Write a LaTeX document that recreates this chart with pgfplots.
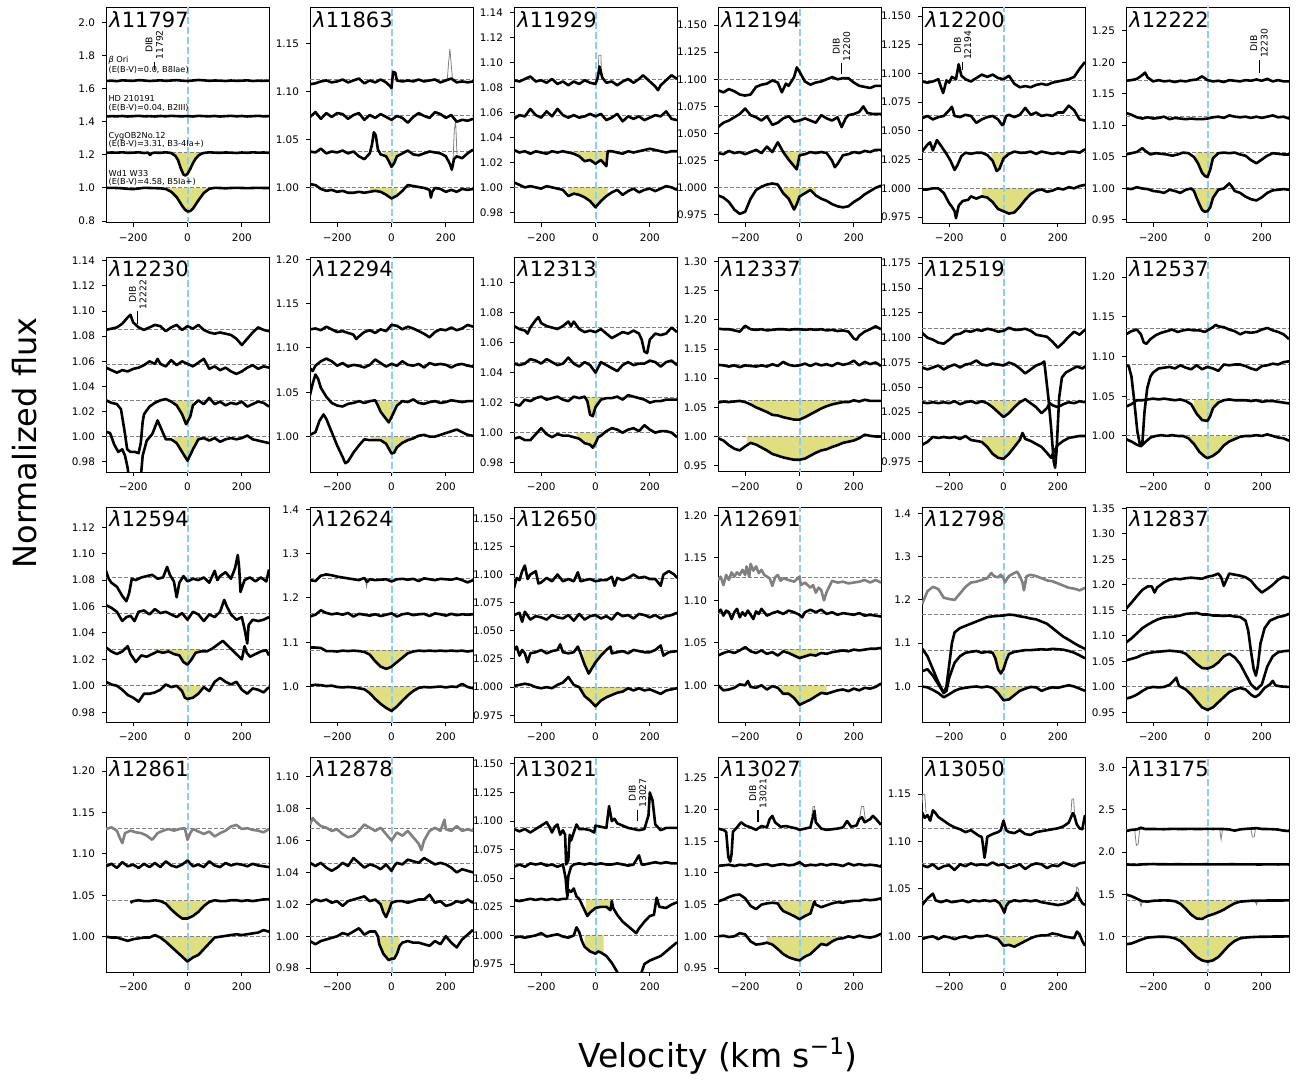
\documentclass[border=0pt]{standalone}
\usepackage{fontspec}
\setmainfont{DejaVu Sans}
\usepackage{pgfplots}
\pgfplotsset{compat=1.18}
\usepgfplotslibrary{fillbetween}
\definecolor{fillc}{RGB}{223,223,128}
\definecolor{vblue}{RGB}{135,206,250}
\definecolor{dgray}{RGB}{128,128,128}
\pgfplotsset{
 pan/.style={scale only axis, width=81.5pt, height=107.5pt, anchor=north west, set layers,
   xmin=-300, xmax=300, xtick={-200,0,200}, xticklabels={−200,0,200},
   tick align=outside, major tick length=2pt, every tick/.style={black, line width=0.5pt},
   axis line style={line width=0.5pt}, xtick pos=left, ytick pos=left,
   ticklabel style={font=\fontsize{5.2}{6}\selectfont}, clip=true},
 myspec/.style={black, line width=1.3pt, line join=round, mark=none},
 mygspec/.style={dgray, line width=1.3pt, line join=round, mark=none},
 mytgray/.style={dgray, line width=0.4pt, mark=none},
 mybase/.style={dgray, line width=0.5pt, dash pattern=on 2pt off 1pt, mark=none},
 myvline/.style={color=vblue, line width=1pt, dash pattern=on 3.5pt off 1.5pt, mark=none},
}
\newcommand\bases[4]{%
 \addplot[mybase] coordinates {(-300,#1)(300,#1)};
 \addplot[mybase] coordinates {(-300,#2)(300,#2)};
 \addplot[mybase, name path=BC] coordinates {(-300,#3)(300,#3)};
 \addplot[mybase, name path=BD] coordinates {(-300,#4)(300,#4)};
 \addplot[myvline] coordinates {(0,-10)(0,10)};}
\newcommand\spA[1]{\addplot[myspec] coordinates {#1};}
\newcommand\spG[1]{\addplot[mygspec] coordinates {#1};}
\newcommand\spT[1]{\addplot[mytgray] coordinates {#1};}
\newcommand\spC[1]{\addplot[myspec, name path=C] coordinates {#1};}
\newcommand\spD[1]{\addplot[myspec, name path=D] coordinates {#1};}
\newcommand\fills[4]{%
 \addplot[fill=fillc, draw=none] fill between[of=C and BC, soft clip={(axis cs:#1,0) rectangle (axis cs:#2,4)}];
 \addplot[fill=fillc, draw=none] fill between[of=D and BD, soft clip={(axis cs:#3,0) rectangle (axis cs:#4,4)}];}
\newcommand\ttl[1]{\node[anchor=north west, inner sep=1.5pt, font=\fontsize{10.5}{11}\selectfont] at (rel axis cs:0,1) {\textit{λ}#1};}
\newcommand\dib[4]{\draw[black, line width=0.6pt] (axis cs:#1,#2) -- (axis cs:#1,#3);
 \node[rotate=90, anchor=west, align=center, inner sep=0.8pt, font=\fontsize{4.6}{5.2}\selectfont] at (axis cs:#1,#3) {DIB\\#4};}
\newcommand\lab[2]{\node[anchor=west, inner sep=0pt, font=\fontsize{4.1}{4.7}\selectfont] at (axis cs:-292,#1) {#2};}
\begin{document}
\begin{tikzpicture}
\path (0,0) rectangle (648pt,-540.5pt);
\node[rotate=90, font=\fontsize{16}{16}\selectfont] at (12.5pt,-221.5pt) {Normalized flux};
\node[font=\fontsize{16.5}{16.5}\selectfont] at (359pt,-528pt) {Velocity (km s\textsuperscript{−1})};
% ---------- Row 1 ----------
\begin{axis}[pan, at={(53pt,-4pt)}, ymin=0.788, ymax=2.09, ytick={0.8,1.0,1.2,1.4,1.6,1.8,2.0}, yticklabels={0.8,1.0,1.2,1.4,1.6,1.8,2.0}]
\bases{1.65}{1.435}{1.215}{1.0}
\spA{(-300,1.648)(-280,1.650)(-260,1.647)(-240,1.652)(-220,1.650)(-200,1.649)(-180,1.653)(-160,1.651)(-140,1.648)(-120,1.650)(-100,1.652)(-80,1.649)(-60,1.651)(-40,1.653)(-20,1.650)(0,1.648)(20,1.651)(40,1.654)(60,1.652)(80,1.649)(100,1.651)(120,1.650)(140,1.648)(160,1.651)(180,1.649)(200,1.650)(220,1.652)(240,1.648)(260,1.650)(280,1.649)(300,1.650)}
\spA{(-300,1.433)(-280,1.435)(-260,1.434)(-240,1.436)(-220,1.433)(-200,1.435)(-180,1.437)(-160,1.434)(-140,1.435)(-120,1.433)(-100,1.436)(-80,1.434)(-60,1.437)(-40,1.435)(-20,1.434)(0,1.436)(20,1.433)(40,1.437)(60,1.435)(80,1.434)(100,1.436)(120,1.433)(140,1.435)(160,1.437)(180,1.434)(200,1.436)(220,1.433)(240,1.435)(260,1.437)(280,1.434)(300,1.435)}
\spC{(-300,1.213)(-280,1.215)(-260,1.214)(-240,1.216)(-220,1.213)(-200,1.214)(-180,1.216)(-160,1.212)(-145,1.214)(-138,1.200)(-130,1.212)(-120,1.214)(-100,1.213)(-80,1.216)(-60,1.212)(-45,1.195)(-35,1.170)(-25,1.120)(-15,1.082)(-8,1.076)(0,1.085)(10,1.115)(20,1.150)(30,1.178)(40,1.196)(50,1.207)(60,1.212)(80,1.216)(100,1.214)(120,1.213)(140,1.215)(160,1.214)(180,1.212)(200,1.215)(220,1.213)(240,1.216)(260,1.214)(280,1.215)(300,1.213)}
\spD{(-300,1.000)(-280,1.001)(-260,1.000)(-240,0.998)(-220,0.995)(-200,0.993)(-180,0.997)(-160,1.001)(-140,1.000)(-120,0.999)(-100,0.998)(-80,0.994)(-60,0.977)(-40,0.945)(-20,0.893)(-10,0.870)(0,0.858)(10,0.860)(20,0.875)(40,0.925)(60,0.970)(80,0.995)(100,1.001)(120,1.000)(140,0.998)(160,1.000)(180,1.001)(200,1.000)(220,0.999)(240,1.000)(260,1.001)(280,1.000)(300,1.000)}
\fills{-55}{60}{-80}{80}
\ttl{11797}
\lab{1.776}{\textit{β} Ori}
\lab{1.715}{(E(B-V)=0.0, B8Iae)}
\lab{1.540}{HD 210191}
\lab{1.485}{(E(B-V)=0.04, B2III)}
\lab{1.315}{CygOB2No.12}
\lab{1.267}{(E(B-V)=3.31, B3-4Ia+)}
\lab{1.090}{Wd1 W33}
\lab{1.036}{(E(B-V)=4.58, B5Ia+)}
\dib{-122}{1.715}{1.766}{11792}
\end{axis}
\begin{axis}[pan, at={(155pt,-4pt)}, ymin=0.9635, ymax=1.1875, ytick={1.00,1.05,1.10,1.15}, yticklabels={1.00,1.05,1.10,1.15}]
\bases{1.1125}{1.076}{1.0375}{1.0}
\spT{(205,1.112)(210,1.130)(215,1.145)(220,1.128)(225,1.112)}
\spT{(226,1.025)(231,1.060)(236,1.070)(241,1.035)}
\spA{(-300,1.108)(-280,1.109)(-260,1.111)(-240,1.112)(-220,1.110)(-200,1.111)(-180,1.113)(-160,1.110)(-140,1.112)(-120,1.114)(-100,1.109)(-80,1.112)(-60,1.110)(-40,1.113)(-20,1.110)(-5,1.106)(0,1.104)(6,1.121)(14,1.120)(20,1.112)(40,1.111)(60,1.112)(80,1.111)(100,1.113)(120,1.111)(140,1.112)(160,1.113)(180,1.110)(200,1.112)(220,1.114)(240,1.110)(260,1.111)(280,1.110)(300,1.111)}
\spA{(-300,1.074)(-280,1.079)(-260,1.072)(-240,1.078)(-220,1.074)(-200,1.078)(-180,1.077)(-160,1.072)(-140,1.076)(-120,1.078)(-100,1.071)(-80,1.076)(-60,1.073)(-40,1.077)(-20,1.074)(0,1.071)(20,1.075)(40,1.073)(60,1.068)(80,1.074)(100,1.078)(120,1.075)(140,1.073)(160,1.079)(180,1.077)(200,1.073)(220,1.076)(240,1.069)(260,1.071)(280,1.070)(300,1.072)}
\spC{(-300,1.038)(-280,1.037)(-260,1.041)(-240,1.036)(-220,1.038)(-200,1.037)(-180,1.039)(-160,1.036)(-140,1.038)(-120,1.033)(-100,1.030)(-80,1.036)(-72,1.045)(-65,1.058)(-58,1.055)(-50,1.040)(-40,1.035)(-20,1.033)(-10,1.028)(0,1.022)(10,1.026)(20,1.033)(40,1.036)(60,1.039)(80,1.035)(100,1.034)(120,1.036)(140,1.038)(160,1.037)(180,1.036)(200,1.033)(215,1.025)(222,1.019)(230,1.030)(240,1.033)(260,1.031)(280,1.036)(300,1.040)}
\spD{(-300,1.004)(-280,1.003)(-260,0.999)(-240,0.997)(-220,0.998)(-200,0.996)(-180,0.997)(-160,0.995)(-140,0.995)(-120,0.996)(-100,0.995)(-80,0.996)(-60,0.997)(-40,0.996)(-20,0.993)(0,0.989)(20,0.992)(40,0.997)(60,1.003)(80,1.002)(100,1.001)(120,1.000)(140,0.998)(145,0.990)(150,0.996)(160,1.000)(180,0.999)(200,0.996)(220,0.998)(240,0.996)(260,0.999)(280,0.998)(300,0.999)}
\fills{-30}{25}{-80}{20}
\ttl{11863}
\end{axis}
\begin{axis}[pan, at={(257pt,-4pt)}, ymin=0.9714, ymax=1.144, ytick={0.98,1.00,1.02,1.04,1.06,1.08,1.10,1.12,1.14}, yticklabels={0.98,1.00,1.02,1.04,1.06,1.08,1.10,1.12,1.14}]
\bases{1.0864}{1.0574}{1.0289}{1.0}
\spT{(10,1.088)(12,1.106)(20,1.106)(22,1.088)}
\spA{(-300,1.086)(-280,1.085)(-260,1.087)(-240,1.089)(-220,1.085)(-200,1.086)(-180,1.084)(-160,1.087)(-140,1.083)(-120,1.085)(-100,1.082)(-80,1.085)(-60,1.083)(-40,1.086)(-20,1.084)(0,1.083)(8,1.088)(15,1.097)(25,1.088)(40,1.084)(60,1.085)(80,1.082)(100,1.085)(120,1.087)(140,1.084)(160,1.087)(175,1.090)(200,1.085)(220,1.081)(230,1.078)(240,1.082)(260,1.086)(280,1.090)(300,1.087)}
\spA{(-300,1.055)(-280,1.058)(-260,1.057)(-240,1.063)(-220,1.058)(-200,1.056)(-180,1.061)(-160,1.057)(-140,1.063)(-120,1.058)(-100,1.056)(-80,1.058)(-60,1.056)(-40,1.057)(-20,1.059)(0,1.057)(20,1.059)(40,1.054)(60,1.056)(80,1.059)(100,1.053)(120,1.057)(140,1.055)(160,1.057)(180,1.054)(200,1.056)(220,1.058)(240,1.057)(260,1.061)(280,1.055)(300,1.054)}
\spC{(-300,1.030)(-280,1.028)(-260,1.029)(-240,1.027)(-220,1.029)(-200,1.028)(-180,1.027)(-160,1.029)(-140,1.028)(-120,1.029)(-100,1.028)(-80,1.027)(-60,1.025)(-40,1.021)(-20,1.022)(0,1.019)(20,1.022)(40,1.017)(45,1.029)(60,1.029)(80,1.028)(100,1.027)(120,1.029)(140,1.028)(160,1.029)(180,1.030)(200,1.031)(220,1.030)(240,1.029)(260,1.028)(280,1.029)(300,1.029)}
\spD{(-300,1.004)(-280,1.002)(-260,1.000)(-240,1.001)(-220,1.000)(-200,0.999)(-180,1.001)(-160,1.000)(-140,0.999)(-120,0.998)(-100,0.993)(-80,0.995)(-60,0.994)(-40,0.992)(-20,0.989)(0,0.984)(20,0.989)(40,0.993)(60,0.996)(80,0.998)(100,0.994)(120,0.997)(140,0.999)(160,0.996)(180,0.998)(200,0.999)(220,0.997)(240,0.999)(260,1.001)(280,1.000)(300,0.998)}
\fills{-90}{45}{-100}{45}
\ttl{11929}
\end{axis}
\begin{axis}[pan, at={(359pt,-4pt)}, ymin=0.9676, ymax=1.1657, ytick={0.975,1.000,1.025,1.050,1.075,1.100,1.125,1.150}, yticklabels={0.975,1.000,1.025,1.050,1.075,1.100,1.125,1.150}]
\bases{1.0998}{1.0665}{1.0333}{1.0}
\spA{(-300,1.090)(-280,1.088)(-260,1.091)(-240,1.089)(-220,1.086)(-200,1.085)(-180,1.086)(-160,1.093)(-140,1.095)(-120,1.096)(-100,1.099)(-80,1.097)(-65,1.088)(-50,1.096)(-40,1.094)(-20,1.102)(-10,1.111)(0,1.107)(20,1.098)(40,1.095)(60,1.097)(80,1.098)(100,1.100)(120,1.102)(140,1.100)(160,1.101)(180,1.101)(200,1.097)(220,1.094)(240,1.093)(260,1.092)(280,1.094)(300,1.094)}
\spA{(-300,1.056)(-280,1.060)(-260,1.062)(-240,1.065)(-220,1.068)(-200,1.073)(-180,1.067)(-160,1.065)(-140,1.062)(-120,1.066)(-100,1.058)(-80,1.060)(-60,1.064)(-40,1.066)(-20,1.061)(0,1.062)(20,1.064)(40,1.062)(60,1.060)(80,1.067)(100,1.064)(120,1.062)(140,1.065)(155,1.056)(170,1.064)(180,1.067)(200,1.068)(220,1.070)(235,1.075)(250,1.069)(270,1.068)(300,1.068)}
\spC{(-300,1.032)(-280,1.031)(-260,1.034)(-240,1.032)(-220,1.033)(-200,1.031)(-180,1.033)(-160,1.035)(-140,1.032)(-120,1.038)(-100,1.033)(-80,1.042)(-60,1.033)(-40,1.026)(-20,1.020)(-10,1.017)(0,1.030)(20,1.031)(40,1.033)(60,1.032)(80,1.033)(100,1.032)(120,1.025)(130,1.019)(140,1.022)(160,1.030)(180,1.031)(200,1.033)(220,1.032)(240,1.034)(260,1.033)(280,1.035)(300,1.035)}
\spD{(-300,0.993)(-280,0.991)(-260,0.987)(-240,0.980)(-220,0.976)(-200,0.978)(-180,0.990)(-160,0.998)(-140,1.001)(-120,1.003)(-100,1.004)(-80,1.003)(-60,0.995)(-40,0.990)(-20,0.980)(-10,0.985)(0,0.992)(20,0.995)(40,0.998)(60,0.993)(80,0.990)(100,0.988)(120,0.985)(140,0.983)(160,0.982)(180,0.983)(200,0.987)(220,0.990)(240,0.994)(260,0.997)(280,1.000)(300,1.002)}
\fills{-60}{15}{-60}{60}
\ttl{12194}
\dib{155}{1.105}{1.115}{12200}
\end{axis}
\begin{axis}[pan, at={(461pt,-4pt)}, ymin=0.9698, ymax=1.157, ytick={0.975,1.000,1.025,1.050,1.075,1.100,1.125,1.150}, yticklabels={0.975,1.000,1.025,1.050,1.075,1.100,1.125,1.150}]
\bases{1.0943}{1.063}{1.0314}{1.0}
\spA{(-300,1.093)(-280,1.092)(-260,1.093)(-240,1.095)(-230,1.088)(-222,1.083)(-210,1.094)(-200,1.092)(-190,1.097)(-175,1.095)(-165,1.108)(-155,1.098)(-140,1.095)(-120,1.093)(-100,1.096)(-80,1.099)(-60,1.097)(-40,1.099)(-20,1.096)(0,1.095)(20,1.098)(40,1.091)(60,1.088)(80,1.089)(100,1.088)(120,1.090)(140,1.091)(160,1.090)(180,1.092)(200,1.093)(220,1.094)(240,1.095)(260,1.097)(280,1.104)(300,1.110)}
\spA{(-300,1.061)(-280,1.063)(-260,1.060)(-240,1.062)(-220,1.063)(-200,1.068)(-190,1.071)(-180,1.063)(-160,1.062)(-140,1.064)(-120,1.063)(-100,1.057)(-80,1.060)(-60,1.062)(-40,1.063)(-20,1.060)(-5,1.055)(0,1.056)(10,1.063)(20,1.064)(40,1.062)(60,1.064)(80,1.070)(100,1.064)(120,1.066)(140,1.063)(160,1.064)(180,1.063)(200,1.066)(220,1.066)(240,1.072)(260,1.068)(280,1.060)(300,1.059)}
\spC{(-300,1.032)(-280,1.038)(-270,1.040)(-260,1.033)(-245,1.042)(-230,1.037)(-210,1.030)(-195,1.024)(-180,1.016)(-170,1.020)(-155,1.028)(-140,1.031)(-120,1.030)(-100,1.031)(-80,1.031)(-60,1.029)(-40,1.024)(-25,1.015)(-15,1.017)(0,1.026)(20,1.030)(40,1.032)(60,1.031)(80,1.031)(100,1.032)(120,1.030)(140,1.032)(160,1.031)(180,1.030)(200,1.031)(220,1.030)(240,1.032)(260,1.032)(280,1.031)(300,1.034)}
\spD{(-300,0.999)(-280,0.999)(-260,1.000)(-240,1.000)(-220,0.996)(-200,0.987)(-190,0.984)(-180,0.980)(-175,0.974)(-165,0.985)(-150,0.989)(-130,0.990)(-120,0.993)(-100,0.991)(-80,0.993)(-60,0.992)(-40,0.988)(-20,0.982)(0,0.980)(20,0.978)(40,0.979)(60,0.984)(80,0.990)(100,0.995)(120,0.998)(140,0.999)(160,0.997)(180,0.998)(200,1.000)(220,0.999)(240,1.001)(260,1.000)(280,1.002)(300,1.003)}
\fills{-45}{45}{-80}{105}
\ttl{12200}
\dib{-150}{1.103}{1.110}{12194}
\end{axis}
\begin{axis}[pan, at={(563pt,-4pt)}, ymin=0.9452, ymax=1.2865, ytick={0.95,1.00,1.05,1.10,1.15,1.20,1.25}, yticklabels={0.95,1.00,1.05,1.10,1.15,1.20,1.25}]
\bases{1.172}{1.114}{1.0575}{1.0}
\spA{(-300,1.171)(-280,1.172)(-260,1.174)(-240,1.180)(-230,1.184)(-220,1.176)(-200,1.170)(-180,1.172)(-160,1.170)(-140,1.171)(-120,1.169)(-100,1.171)(-80,1.170)(-60,1.172)(-40,1.173)(-20,1.178)(0,1.172)(20,1.170)(40,1.171)(60,1.169)(80,1.172)(100,1.171)(120,1.170)(140,1.172)(160,1.171)(180,1.173)(200,1.171)(220,1.174)(240,1.170)(260,1.172)(280,1.170)(300,1.170)}
\spA{(-300,1.120)(-280,1.117)(-260,1.113)(-240,1.111)(-220,1.113)(-200,1.111)(-180,1.112)(-160,1.114)(-140,1.110)(-120,1.112)(-100,1.111)(-80,1.110)(-60,1.111)(-40,1.110)(-20,1.110)(0,1.111)(20,1.113)(40,1.114)(60,1.112)(80,1.116)(100,1.114)(120,1.113)(140,1.114)(160,1.112)(180,1.114)(200,1.112)(220,1.114)(240,1.116)(260,1.113)(280,1.114)(300,1.111)}
\spC{(-300,1.054)(-280,1.056)(-260,1.058)(-240,1.064)(-230,1.060)(-210,1.054)(-190,1.056)(-170,1.055)(-150,1.054)(-130,1.052)(-110,1.054)(-90,1.057)(-70,1.056)(-50,1.050)(-35,1.040)(-20,1.025)(-10,1.020)(0,1.018)(10,1.030)(20,1.048)(40,1.056)(60,1.057)(80,1.056)(100,1.057)(120,1.054)(140,1.052)(160,1.045)(180,1.040)(200,1.046)(220,1.052)(240,1.056)(260,1.055)(280,1.054)(300,1.054)}
\spD{(-300,1.000)(-280,0.999)(-260,1.002)(-240,1.000)(-220,0.999)(-200,0.996)(-180,0.995)(-160,0.993)(-140,0.998)(-120,0.996)(-100,0.993)(-80,0.998)(-60,1.000)(-50,0.996)(-40,0.985)(-30,0.975)(-20,0.966)(-10,0.963)(0,0.964)(10,0.970)(20,0.985)(40,0.998)(60,1.000)(80,1.008)(90,1.003)(100,0.996)(120,0.993)(140,0.987)(160,0.983)(180,0.981)(200,0.986)(220,0.993)(240,0.997)(260,0.998)(280,0.999)(300,0.998)}
\fills{-45}{35}{-50}{40}
\ttl{12222}
\dib{190}{1.183}{1.204}{12230}
\end{axis}
% ---------- Row 2 ----------
\begin{axis}[pan, at={(53pt,-128.5pt)}, ymin=0.972, ymax=1.143, ytick={0.98,1.00,1.02,1.04,1.06,1.08,1.10,1.12,1.14}, yticklabels={0.98,1.00,1.02,1.04,1.06,1.08,1.10,1.12,1.14}]
\bases{1.0857}{1.0572}{1.029}{1.0}
\spA{(-300,1.085)(-280,1.086)(-260,1.087)(-240,1.090)(-220,1.095)(-210,1.097)(-200,1.091)(-180,1.087)(-160,1.085)(-140,1.087)(-120,1.089)(-100,1.088)(-80,1.084)(-60,1.087)(-40,1.089)(-20,1.085)(0,1.088)(20,1.086)(40,1.089)(60,1.085)(80,1.083)(100,1.082)(120,1.083)(140,1.082)(160,1.081)(180,1.078)(200,1.073)(220,1.078)(240,1.083)(260,1.087)(280,1.085)(300,1.084)}
\spA{(-300,1.055)(-280,1.053)(-260,1.051)(-240,1.053)(-220,1.052)(-200,1.054)(-180,1.055)(-160,1.057)(-140,1.060)(-120,1.058)(-110,1.062)(-100,1.058)(-80,1.056)(-60,1.061)(-40,1.057)(-20,1.060)(0,1.058)(20,1.056)(40,1.059)(60,1.062)(80,1.054)(100,1.056)(120,1.053)(140,1.055)(160,1.052)(180,1.050)(200,1.052)(220,1.055)(240,1.057)(260,1.054)(280,1.056)(300,1.055)}
\spC{(-300,1.029)(-280,1.027)(-260,1.026)(-245,1.022)(-232,1.005)(-222,0.990)(-210,0.988)(-195,0.988)(-180,0.987)(-172,0.995)(-165,1.012)(-160,1.018)(-140,1.024)(-120,1.027)(-100,1.029)(-80,1.030)(-60,1.028)(-40,1.025)(-20,1.018)(-5,1.010)(10,1.016)(20,1.025)(40,1.029)(60,1.026)(80,1.031)(100,1.026)(120,1.028)(140,1.025)(160,1.027)(180,1.026)(200,1.028)(220,1.024)(240,1.026)(260,1.028)(280,1.027)(300,1.024)}
\spD{(-300,1.004)(-285,1.003)(-270,0.994)(-255,0.988)(-240,0.990)(-230,0.985)(-220,0.975)(-212,0.960)(-175,0.960)(-165,0.985)(-150,0.997)(-130,1.002)(-110,1.013)(-100,1.008)(-80,0.998)(-60,0.998)(-40,0.995)(-20,0.988)(0,0.981)(20,0.990)(40,0.998)(60,0.999)(80,0.997)(100,0.999)(120,0.996)(140,0.998)(160,0.999)(180,0.998)(200,0.999)(220,1.001)(240,0.998)(260,0.997)(280,0.996)(300,0.995)}
\fills{-50}{20}{-50}{80}
\ttl{12230}
\dib{-183}{1.090}{1.100}{12222}
\end{axis}
\begin{axis}[pan, at={(155pt,-128.5pt)}, ymin=0.9601, ymax=1.2026, ytick={1.00,1.05,1.10,1.15,1.20}, yticklabels={1.00,1.05,1.10,1.15,1.20}]
\bases{1.1213}{1.081}{1.0405}{1.0}
\spA{(-300,1.121)(-280,1.122)(-260,1.120)(-240,1.124)(-220,1.121)(-200,1.118)(-180,1.119)(-160,1.117)(-140,1.115)(-130,1.110)(-120,1.113)(-100,1.118)(-80,1.120)(-60,1.117)(-40,1.121)(-20,1.119)(0,1.126)(20,1.125)(40,1.121)(60,1.124)(80,1.122)(100,1.119)(120,1.116)(140,1.112)(160,1.118)(180,1.121)(200,1.120)(220,1.123)(240,1.120)(260,1.122)(280,1.126)(300,1.124)}
\spA{(-300,1.077)(-290,1.074)(-280,1.080)(-260,1.085)(-240,1.088)(-220,1.085)(-200,1.080)(-180,1.083)(-160,1.079)(-140,1.081)(-120,1.080)(-100,1.078)(-80,1.081)(-60,1.087)(-40,1.083)(-20,1.079)(0,1.082)(20,1.080)(40,1.085)(60,1.081)(80,1.080)(100,1.082)(120,1.078)(140,1.083)(160,1.081)(180,1.082)(200,1.081)(220,1.078)(240,1.081)(260,1.082)(280,1.080)(300,1.079)}
\spC{(-300,1.047)(-290,1.060)(-280,1.070)(-270,1.065)(-260,1.055)(-240,1.045)(-220,1.038)(-200,1.035)(-180,1.034)(-160,1.037)(-140,1.038)(-120,1.040)(-100,1.038)(-80,1.040)(-60,1.041)(-50,1.035)(-40,1.028)(-20,1.020)(-10,1.016)(0,1.022)(20,1.035)(40,1.040)(60,1.039)(80,1.042)(100,1.038)(120,1.037)(140,1.039)(160,1.040)(180,1.038)(200,1.039)(220,1.041)(240,1.040)(260,1.039)(280,1.040)(300,1.040)}
\spD{(-300,1.002)(-280,1.005)(-265,1.018)(-250,1.025)(-240,1.020)(-220,1.005)(-200,0.990)(-180,0.977)(-170,0.970)(-160,0.972)(-140,0.982)(-120,0.990)(-100,0.997)(-80,0.996)(-60,0.996)(-40,0.996)(-20,0.992)(0,0.981)(10,0.982)(20,0.988)(40,0.993)(60,0.996)(80,0.998)(100,1.001)(120,1.002)(140,1.000)(160,1.000)(180,1.002)(200,1.004)(220,1.006)(240,1.008)(260,1.005)(280,1.002)(300,1.001)}
\fills{-70}{30}{-75}{95}
\ttl{12294}
\end{axis}
\begin{axis}[pan, at={(257pt,-128.5pt)}, ymin=0.9738, ymax=1.117, ytick={0.98,1.00,1.02,1.04,1.06,1.08,1.10}, yticklabels={0.98,1.00,1.02,1.04,1.06,1.08,1.10}]
\bases{1.0703}{1.0466}{1.0237}{1.0}
\spA{(-300,1.071)(-280,1.069)(-260,1.068)(-250,1.066)(-240,1.070)(-220,1.075)(-210,1.077)(-200,1.073)(-180,1.071)(-160,1.070)(-140,1.069)(-120,1.071)(-100,1.074)(-90,1.071)(-80,1.074)(-60,1.069)(-40,1.067)(-20,1.068)(0,1.067)(20,1.069)(40,1.066)(60,1.063)(80,1.065)(100,1.067)(120,1.066)(140,1.068)(160,1.066)(170,1.062)(180,1.054)(190,1.053)(200,1.062)(220,1.066)(240,1.065)(260,1.066)(280,1.070)(300,1.067)}
\spA{(-300,1.046)(-280,1.045)(-260,1.046)(-240,1.049)(-220,1.048)(-200,1.046)(-180,1.049)(-160,1.047)(-140,1.045)(-120,1.046)(-100,1.050)(-80,1.046)(-60,1.044)(-40,1.047)(-20,1.045)(0,1.040)(20,1.047)(40,1.045)(60,1.043)(80,1.041)(100,1.045)(120,1.047)(140,1.045)(160,1.046)(180,1.046)(200,1.048)(220,1.047)(240,1.044)(260,1.047)(280,1.048)(300,1.045)}
\spC{(-300,1.019)(-280,1.018)(-260,1.022)(-240,1.021)(-220,1.023)(-200,1.024)(-180,1.022)(-160,1.023)(-140,1.024)(-120,1.022)(-100,1.021)(-80,1.024)(-60,1.023)(-40,1.024)(-30,1.021)(-20,1.012)(-10,1.011)(0,1.017)(20,1.022)(40,1.023)(60,1.023)(80,1.024)(100,1.022)(120,1.025)(140,1.024)(160,1.023)(180,1.022)(200,1.020)(220,1.021)(240,1.021)(260,1.022)(280,1.022)(300,1.022)}
\spD{(-300,0.996)(-280,0.997)(-260,0.995)(-240,0.995)(-220,0.999)(-200,1.003)(-180,0.999)(-160,0.997)(-140,0.999)(-120,0.998)(-100,0.998)(-80,0.997)(-60,0.996)(-40,0.993)(-20,0.992)(-10,0.990)(0,0.993)(10,0.997)(20,0.998)(40,1.001)(60,1.003)(80,1.002)(100,1.000)(120,1.002)(140,1.003)(160,1.001)(180,1.005)(200,1.002)(220,1.000)(240,1.001)(260,1.001)(280,1.000)(300,0.997)}
\fills{-30}{40}{-70}{30}
\ttl{12313}
\end{axis}
\begin{axis}[pan, at={(359pt,-128.5pt)}, ymin=0.939, ymax=1.308, ytick={0.95,1.00,1.05,1.10,1.15,1.20,1.25,1.30}, yticklabels={0.95,1.00,1.05,1.10,1.15,1.20,1.25,1.30}]
\bases{1.1846}{1.1237}{1.0623}{1.0}
\spA{(-300,1.185)(-280,1.184)(-260,1.184)(-240,1.182)(-220,1.180)(-200,1.190)(-180,1.184)(-160,1.183)(-140,1.184)(-120,1.182)(-100,1.183)(-80,1.184)(-60,1.184)(-40,1.183)(-20,1.184)(0,1.184)(20,1.183)(40,1.184)(60,1.183)(80,1.184)(100,1.182)(120,1.183)(140,1.181)(160,1.182)(180,1.180)(200,1.168)(210,1.166)(220,1.173)(240,1.180)(260,1.184)(280,1.189)(300,1.184)}
\spA{(-300,1.123)(-280,1.122)(-260,1.120)(-240,1.122)(-220,1.119)(-200,1.122)(-180,1.121)(-160,1.120)(-140,1.122)(-120,1.120)(-100,1.124)(-80,1.121)(-60,1.128)(-40,1.123)(-20,1.121)(0,1.122)(20,1.125)(40,1.121)(60,1.125)(80,1.122)(100,1.124)(120,1.121)(140,1.126)(160,1.123)(180,1.125)(200,1.130)(220,1.122)(240,1.128)(260,1.124)(280,1.127)(300,1.121)}
\spC{(-300,1.058)(-280,1.060)(-260,1.059)(-240,1.060)(-220,1.061)(-200,1.059)(-180,1.055)(-160,1.050)(-140,1.046)(-120,1.042)(-100,1.037)(-80,1.036)(-60,1.033)(-40,1.031)(-20,1.029)(0,1.029)(20,1.033)(40,1.038)(60,1.043)(80,1.048)(100,1.052)(120,1.055)(140,1.057)(160,1.059)(180,1.059)(200,1.062)(220,1.060)(240,1.063)(260,1.061)(280,1.061)(300,1.061)}
\spD{(-300,0.997)(-280,0.993)(-260,0.985)(-240,0.979)(-220,0.976)(-200,0.983)(-180,0.989)(-160,0.986)(-140,0.981)(-120,0.976)(-100,0.970)(-80,0.967)(-60,0.964)(-40,0.962)(-20,0.960)(0,0.960)(20,0.962)(40,0.967)(60,0.972)(80,0.976)(100,0.978)(120,0.982)(140,0.985)(160,0.989)(180,0.991)(200,0.993)(220,0.997)(240,1.003)(260,1.001)(280,1.000)(300,1.000)}
\fills{-180}{240}{-195}{250}
\ttl{12337}
\end{axis}
\begin{axis}[pan, at={(461pt,-128.5pt)}, ymin=0.9647, ymax=1.1813, ytick={0.975,1.000,1.025,1.050,1.075,1.100,1.125,1.150,1.175}, yticklabels={0.975,1.000,1.025,1.050,1.075,1.100,1.125,1.150,1.175}]
\bases{1.1088}{1.072}{1.0368}{1.0}
\spA{(-300,1.105)(-280,1.100)(-260,1.098)(-240,1.095)(-220,1.094)(-200,1.098)(-180,1.103)(-160,1.104)(-140,1.107)(-120,1.106)(-100,1.108)(-80,1.107)(-60,1.109)(-40,1.108)(-20,1.106)(0,1.107)(20,1.110)(40,1.108)(60,1.108)(80,1.109)(100,1.107)(120,1.103)(140,1.102)(160,1.101)(180,1.096)(200,1.090)(220,1.095)(240,1.101)(260,1.106)(280,1.103)(300,1.108)}
\spA{(-300,1.070)(-280,1.068)(-260,1.070)(-240,1.072)(-220,1.068)(-200,1.071)(-180,1.073)(-160,1.070)(-140,1.073)(-120,1.074)(-100,1.077)(-80,1.073)(-60,1.072)(-40,1.074)(-20,1.073)(0,1.072)(20,1.075)(40,1.073)(60,1.069)(80,1.064)(100,1.068)(120,1.072)(140,1.074)(150,1.076)(165,1.040)(175,1.010)(185,0.975)(190,0.969)(195,0.985)(205,1.040)(215,1.060)(230,1.065)(250,1.068)(270,1.071)(290,1.069)(300,1.071)}
\spC{(-300,1.035)(-280,1.034)(-260,1.035)(-240,1.034)(-220,1.035)(-200,1.034)(-180,1.036)(-160,1.033)(-140,1.035)(-120,1.036)(-100,1.034)(-80,1.036)(-60,1.034)(-40,1.030)(-20,1.025)(0,1.020)(20,1.024)(40,1.030)(60,1.035)(80,1.038)(100,1.034)(120,1.030)(140,1.024)(160,1.029)(170,1.034)(180,1.032)(200,1.030)(220,1.033)(240,1.035)(260,1.034)(280,1.036)(300,1.035)}
\spD{(-300,0.992)(-280,0.995)(-260,1.000)(-240,0.999)(-220,1.000)(-200,0.999)(-180,1.000)(-160,0.998)(-140,1.001)(-120,0.997)(-100,0.996)(-80,0.995)(-60,0.990)(-40,0.983)(-20,0.979)(0,0.978)(20,0.983)(40,0.990)(60,0.997)(70,1.004)(80,0.998)(100,0.996)(120,0.993)(140,0.990)(160,0.984)(175,0.979)(185,0.985)(200,0.992)(220,0.996)(240,0.999)(260,1.000)(280,1.001)(300,1.001)}
\fills{-50}{60}{-80}{70}
\ttl{12519}
\end{axis}
\begin{axis}[pan, at={(563pt,-128.5pt)}, ymin=0.9546, ymax=1.2254, ytick={1.00,1.05,1.10,1.15,1.20}, yticklabels={1.00,1.05,1.10,1.15,1.20}]
\bases{1.135}{1.0904}{1.0454}{1.0}
\spA{(-300,1.128)(-280,1.132)(-260,1.134)(-245,1.128)(-235,1.118)(-225,1.116)(-210,1.122)(-190,1.127)(-170,1.130)(-150,1.132)(-130,1.134)(-110,1.131)(-90,1.133)(-70,1.134)(-50,1.133)(-30,1.133)(-10,1.131)(0,1.133)(20,1.137)(30,1.140)(40,1.138)(60,1.137)(80,1.134)(100,1.132)(120,1.128)(140,1.131)(160,1.130)(180,1.131)(200,1.134)(220,1.136)(240,1.133)(260,1.131)(280,1.128)(300,1.122)}
\spA{(-300,1.089)(-290,1.088)(-280,1.075)(-270,1.045)(-258,1.005)(-248,0.988)(-240,0.990)(-232,1.030)(-222,1.060)(-210,1.075)(-200,1.080)(-180,1.085)(-160,1.086)(-140,1.087)(-120,1.085)(-100,1.089)(-80,1.086)(-60,1.084)(-40,1.089)(-20,1.084)(0,1.087)(20,1.085)(40,1.082)(60,1.090)(80,1.089)(100,1.090)(120,1.090)(140,1.088)(160,1.085)(180,1.083)(200,1.088)(220,1.089)(240,1.091)(260,1.090)(280,1.093)(300,1.094)}
\spC{(-300,1.037)(-280,1.040)(-260,1.045)(-240,1.045)(-220,1.046)(-200,1.047)(-180,1.046)(-160,1.047)(-140,1.046)(-120,1.045)(-100,1.046)(-80,1.044)(-60,1.040)(-40,1.028)(-20,1.020)(0,1.019)(10,1.025)(20,1.035)(40,1.042)(60,1.045)(80,1.046)(100,1.045)(120,1.045)(140,1.045)(160,1.044)(180,1.045)(200,1.043)(220,1.044)(240,1.044)(260,1.043)(280,1.042)(300,1.041)}
\spD{(-300,0.996)(-280,0.993)(-260,0.989)(-245,0.987)(-230,0.992)(-210,0.998)(-190,1.000)(-170,1.001)(-150,1.000)(-130,1.001)(-110,1.000)(-90,1.000)(-70,0.997)(-50,0.990)(-30,0.980)(-10,0.974)(0,0.972)(20,0.975)(40,0.980)(60,0.988)(80,0.993)(100,0.996)(120,0.999)(140,1.000)(160,1.000)(180,1.001)(200,1.000)(220,1.002)(240,1.000)(260,0.998)(280,0.997)(300,0.994)}
\fills{-50}{60}{-70}{110}
\ttl{12537}
\end{axis}
% ---------- Row 3 ----------
\begin{axis}[pan, at={(53pt,-253.5pt)}, ymin=0.9726, ymax=1.1353, ytick={0.98,1.00,1.02,1.04,1.06,1.08,1.10,1.12}, yticklabels={0.98,1.00,1.02,1.04,1.06,1.08,1.10,1.12}]
\bases{1.0816}{1.0546}{1.0275}{1.0}
\spA{(-300,1.087)(-290,1.081)(-280,1.078)(-260,1.075)(-240,1.068)(-225,1.064)(-215,1.070)(-205,1.081)(-190,1.080)(-170,1.082)(-150,1.083)(-130,1.084)(-110,1.081)(-90,1.082)(-75,1.090)(-65,1.084)(-50,1.079)(-40,1.067)(-30,1.078)(-15,1.083)(0,1.079)(20,1.081)(40,1.080)(60,1.082)(80,1.078)(100,1.087)(110,1.080)(120,1.083)(140,1.086)(160,1.081)(175,1.089)(185,1.099)(190,1.090)(195,1.071)(210,1.080)(230,1.082)(250,1.079)(270,1.082)(290,1.079)(300,1.088)}
\spA{(-300,1.061)(-280,1.059)(-260,1.056)(-240,1.049)(-225,1.052)(-210,1.053)(-195,1.049)(-180,1.056)(-160,1.057)(-140,1.054)(-120,1.058)(-100,1.055)(-80,1.056)(-60,1.054)(-40,1.052)(-20,1.055)(0,1.050)(20,1.056)(40,1.054)(60,1.049)(80,1.054)(100,1.052)(120,1.056)(135,1.065)(145,1.060)(160,1.054)(180,1.050)(200,1.052)(210,1.043)(220,1.032)(225,1.046)(240,1.050)(260,1.049)(280,1.050)(300,1.052)}
\spC{(-300,1.029)(-280,1.026)(-260,1.024)(-240,1.026)(-220,1.030)(-210,1.024)(-190,1.018)(-170,1.023)(-150,1.022)(-130,1.024)(-110,1.026)(-90,1.025)(-70,1.026)(-50,1.024)(-30,1.023)(-15,1.018)(0,1.016)(15,1.020)(30,1.025)(50,1.026)(70,1.026)(90,1.028)(110,1.031)(130,1.034)(150,1.030)(170,1.026)(190,1.022)(200,1.020)(210,1.030)(218,1.025)(230,1.022)(250,1.024)(270,1.026)(290,1.027)(300,1.023)}
\spD{(-300,1.003)(-280,1.001)(-260,1.000)(-240,0.997)(-220,0.993)(-200,0.991)(-180,0.988)(-160,0.994)(-140,0.994)(-120,0.995)(-100,0.997)(-80,1.001)(-60,0.999)(-40,1.000)(-20,0.996)(-10,0.991)(0,0.990)(20,0.991)(40,0.994)(60,0.999)(80,0.996)(100,1.003)(120,1.006)(140,1.003)(160,1.001)(180,1.003)(200,0.997)(220,0.994)(240,0.998)(260,0.997)(280,0.995)(300,0.999)}
\fills{-120}{80}{-60}{60}
\ttl{12594}
\end{axis}
\begin{axis}[pan, at={(155pt,-253.5pt)}, ymin=0.92, ymax=1.405, ytick={1.0,1.1,1.2,1.3,1.4}, yticklabels={1.0,1.1,1.2,1.3,1.4}]
\bases{1.2434}{1.1647}{1.0823}{1.0}
\spT{(-96,1.240)(-92,1.225)(-88,1.240)}
\spA{(-300,1.240)(-280,1.238)(-260,1.250)(-240,1.253)(-220,1.251)(-200,1.248)(-180,1.246)(-160,1.244)(-140,1.242)(-120,1.240)(-100,1.245)(-90,1.236)(-80,1.242)(-60,1.240)(-40,1.241)(-20,1.242)(0,1.237)(20,1.242)(40,1.243)(60,1.241)(80,1.243)(100,1.238)(120,1.244)(140,1.242)(160,1.240)(180,1.243)(200,1.242)(220,1.241)(240,1.244)(260,1.240)(280,1.235)(300,1.240)}
\spA{(-300,1.158)(-280,1.162)(-260,1.172)(-240,1.166)(-220,1.163)(-200,1.165)(-180,1.162)(-160,1.166)(-140,1.158)(-120,1.164)(-100,1.162)(-80,1.160)(-60,1.163)(-40,1.159)(-20,1.162)(0,1.165)(20,1.158)(40,1.163)(60,1.165)(80,1.161)(100,1.163)(120,1.164)(140,1.159)(160,1.165)(180,1.163)(200,1.160)(220,1.164)(240,1.161)(260,1.163)(280,1.162)(300,1.163)}
\spC{(-300,1.088)(-280,1.088)(-260,1.087)(-240,1.080)(-220,1.080)(-200,1.079)(-180,1.081)(-160,1.080)(-140,1.081)(-120,1.080)(-100,1.078)(-80,1.072)(-60,1.057)(-40,1.045)(-20,1.040)(-10,1.042)(0,1.045)(20,1.055)(40,1.065)(60,1.075)(80,1.079)(100,1.081)(120,1.080)(140,1.081)(160,1.080)(180,1.081)(200,1.080)(220,1.081)(240,1.080)(260,1.081)(280,1.079)(300,1.081)}
\spD{(-300,1.002)(-280,1.004)(-260,1.003)(-240,1.001)(-220,1.002)(-200,0.999)(-180,0.998)(-160,0.999)(-140,0.998)(-120,0.996)(-100,0.994)(-80,0.985)(-60,0.972)(-40,0.961)(-20,0.952)(0,0.945)(20,0.955)(40,0.968)(60,0.980)(80,0.990)(100,0.997)(120,0.999)(140,0.998)(160,0.999)(180,1.000)(200,0.998)(220,1.000)(240,0.999)(260,1.006)(280,0.999)(300,0.996)}
\fills{-100}{110}{-90}{110}
\ttl{12624}
\end{axis}
\begin{axis}[pan, at={(257pt,-253.5pt)}, ymin=0.969, ymax=1.160, ytick={0.975,1.000,1.025,1.050,1.075,1.100,1.125,1.150}, yticklabels={0.975,1.000,1.025,1.050,1.075,1.100,1.125,1.150}]
\bases{1.0969}{1.0648}{1.0328}{1.0}
\spA{(-300,1.088)(-290,1.097)(-280,1.095)(-270,1.103)(-260,1.108)(-250,1.096)(-240,1.100)(-220,1.103)(-210,1.092)(-200,1.093)(-180,1.097)(-160,1.094)(-140,1.100)(-120,1.094)(-100,1.096)(-80,1.094)(-65,1.102)(-55,1.094)(-40,1.095)(-20,1.096)(0,1.094)(20,1.095)(40,1.095)(60,1.098)(70,1.090)(80,1.097)(100,1.095)(120,1.097)(140,1.100)(160,1.097)(180,1.098)(200,1.096)(220,1.096)(240,1.090)(250,1.100)(270,1.103)(290,1.100)(300,1.097)}
\spA{(-300,1.064)(-280,1.066)(-270,1.058)(-260,1.067)(-240,1.060)(-220,1.063)(-200,1.062)(-180,1.060)(-160,1.064)(-140,1.062)(-120,1.061)(-100,1.064)(-80,1.059)(-60,1.065)(-40,1.060)(-20,1.063)(0,1.064)(20,1.061)(40,1.063)(60,1.060)(80,1.066)(100,1.063)(120,1.064)(140,1.061)(160,1.065)(180,1.064)(200,1.062)(220,1.064)(240,1.061)(260,1.063)(280,1.064)(300,1.066)}
\spC{(-300,1.033)(-290,1.036)(-280,1.028)(-270,1.033)(-260,1.030)(-250,1.022)(-240,1.030)(-220,1.031)(-200,1.033)(-180,1.030)(-160,1.032)(-140,1.033)(-130,1.038)(-120,1.031)(-100,1.030)(-80,1.031)(-65,1.036)(-55,1.030)(-40,1.020)(-25,1.012)(-10,1.018)(0,1.022)(20,1.028)(40,1.033)(55,1.036)(60,1.030)(80,1.031)(100,1.032)(120,1.030)(140,1.033)(160,1.032)(180,1.031)(200,1.031)(220,1.033)(240,1.037)(250,1.028)(270,1.031)(300,1.032)}
\spD{(-300,1.001)(-280,1.002)(-260,1.003)(-240,1.002)(-220,1.000)(-200,0.999)(-180,1.000)(-160,0.999)(-140,1.002)(-120,1.004)(-100,1.009)(-80,1.002)(-60,1.000)(-40,0.992)(-20,0.988)(0,0.983)(20,0.988)(40,0.991)(60,0.993)(80,0.995)(100,0.996)(120,0.999)(140,0.997)(160,0.999)(180,0.997)(200,0.998)(220,0.996)(240,0.994)(260,0.997)(280,0.998)(300,0.999)}
\fills{-45}{60}{-50}{120}
\ttl{12650}
\end{axis}
\begin{axis}[pan, at={(359pt,-253.5pt)}, ymin=0.9567, ymax=1.210, ytick={1.00,1.05,1.10,1.15,1.20}, yticklabels={1.00,1.05,1.10,1.15,1.20}]
\bases{1.127}{1.085}{1.0427}{1.0}
\spG{(-300,1.124)(-290,1.128)(-280,1.118)(-270,1.130)(-260,1.124)(-250,1.133)(-240,1.128)(-230,1.133)(-220,1.130)(-210,1.136)(-200,1.130)(-195,1.140)(-185,1.128)(-180,1.143)(-170,1.135)(-160,1.140)(-150,1.132)(-140,1.136)(-130,1.130)(-120,1.128)(-110,1.126)(-100,1.117)(-90,1.127)(-80,1.130)(-70,1.123)(-60,1.126)(-40,1.124)(-20,1.122)(0,1.128)(5,1.118)(20,1.121)(40,1.115)(50,1.118)(60,1.109)(70,1.115)(80,1.112)(90,1.100)(100,1.110)(120,1.123)(140,1.121)(160,1.122)(180,1.120)(200,1.121)(220,1.122)(240,1.124)(260,1.121)(280,1.124)(300,1.121)}
\spA{(-300,1.086)(-290,1.089)(-280,1.082)(-270,1.088)(-260,1.086)(-250,1.078)(-240,1.086)(-230,1.090)(-220,1.080)(-210,1.086)(-200,1.082)(-190,1.088)(-180,1.083)(-170,1.078)(-160,1.087)(-150,1.084)(-140,1.090)(-120,1.082)(-100,1.085)(-80,1.087)(-60,1.084)(-40,1.088)(-20,1.086)(0,1.083)(10,1.080)(20,1.086)(40,1.089)(60,1.086)(80,1.089)(100,1.084)(120,1.086)(140,1.083)(160,1.085)(180,1.084)(200,1.083)(220,1.085)(240,1.082)(260,1.083)(280,1.082)(300,1.081)}
\spC{(-300,1.035)(-280,1.038)(-260,1.040)(-240,1.038)(-220,1.041)(-200,1.045)(-180,1.040)(-160,1.038)(-140,1.041)(-120,1.037)(-100,1.039)(-80,1.035)(-60,1.040)(-40,1.038)(-20,1.035)(0,1.032)(20,1.034)(40,1.036)(60,1.035)(80,1.038)(100,1.037)(120,1.039)(140,1.040)(160,1.041)(180,1.040)(200,1.042)(220,1.041)(240,1.042)(260,1.043)(280,1.043)(300,1.044)}
\spD{(-300,1.000)(-280,0.994)(-260,0.995)(-240,0.997)(-220,1.001)(-200,1.000)(-190,1.005)(-180,0.998)(-160,0.997)(-140,1.000)(-120,0.995)(-100,0.999)(-80,0.997)(-60,0.990)(-40,0.990)(-20,0.985)(0,0.977)(20,0.980)(40,0.983)(60,0.987)(80,0.991)(100,0.990)(120,0.992)(140,0.994)(160,0.995)(180,0.993)(200,0.996)(220,0.994)(240,0.997)(260,0.996)(280,0.998)(300,1.002)}
\fills{-60}{70}{-70}{100}
\ttl{12691}
\end{axis}
\begin{axis}[pan, at={(461pt,-253.5pt)}, ymin=0.918, ymax=1.4145, ytick={1.0,1.1,1.2,1.3,1.4}, yticklabels={1.0,1.1,1.2,1.3,1.4}]
\bases{1.2506}{1.1655}{1.0835}{1.0}
\spG{(-300,1.190)(-290,1.205)(-280,1.220)(-260,1.230)(-240,1.225)(-220,1.205)(-200,1.202)(-180,1.200)(-160,1.215)(-140,1.230)(-120,1.240)(-100,1.242)(-80,1.246)(-60,1.250)(-45,1.262)(-35,1.255)(-20,1.252)(-10,1.258)(0,1.250)(5,1.240)(20,1.255)(40,1.262)(50,1.265)(60,1.255)(70,1.240)(75,1.222)(85,1.255)(100,1.258)(120,1.255)(140,1.250)(160,1.245)(180,1.243)(200,1.238)(220,1.233)(240,1.228)(260,1.226)(280,1.222)(300,1.228)}
\spA{(-300,1.035)(-280,1.040)(-260,1.025)(-240,1.005)(-220,0.985)(-210,1.000)(-200,1.050)(-190,1.100)(-180,1.125)(-160,1.135)(-140,1.140)(-120,1.145)(-100,1.150)(-80,1.155)(-60,1.160)(-40,1.162)(-20,1.163)(0,1.164)(20,1.166)(40,1.165)(60,1.162)(80,1.160)(100,1.157)(120,1.155)(140,1.150)(160,1.145)(180,1.135)(200,1.125)(220,1.115)(240,1.108)(260,1.100)(280,1.093)(300,1.087)}
\spC{(-300,1.088)(-280,1.070)(-260,1.040)(-240,1.010)(-220,0.985)(-210,0.990)(-200,1.020)(-180,1.055)(-160,1.070)(-140,1.078)(-120,1.080)(-100,1.082)(-80,1.078)(-60,1.080)(-40,1.078)(-30,1.065)(-20,1.040)(-10,1.030)(0,1.040)(10,1.060)(20,1.075)(40,1.080)(60,1.082)(80,1.084)(100,1.084)(120,1.085)(140,1.086)(160,1.085)(180,1.087)(200,1.086)(220,1.085)(240,1.082)(260,1.078)(280,1.072)(300,1.065)}
\spD{(-300,1.000)(-280,0.998)(-260,0.992)(-240,0.985)(-220,0.975)(-200,0.982)(-180,0.990)(-160,0.995)(-140,0.997)(-120,0.999)(-100,1.000)(-80,0.998)(-60,1.000)(-40,0.997)(-20,0.985)(0,0.968)(20,0.970)(40,0.980)(60,0.990)(80,0.995)(100,0.999)(120,0.998)(140,0.990)(160,0.995)(180,0.998)(200,0.997)(220,1.000)(240,1.003)(260,1.000)(280,0.995)(300,0.990)}
\fills{-40}{50}{-40}{80}
\ttl{12798}
\end{axis}
\begin{axis}[pan, at={(563pt,-253.5pt)}, ymin=0.9313, ymax=1.3525, ytick={0.95,1.00,1.05,1.10,1.15,1.20,1.25,1.30,1.35}, yticklabels={0.95,1.00,1.05,1.10,1.15,1.20,1.25,1.30,1.35}]
\bases{1.2134}{1.1427}{1.0717}{1.0}
\spA{(-300,1.153)(-280,1.165)(-260,1.178)(-240,1.190)(-220,1.197)(-205,1.197)(-195,1.185)(-185,1.195)(-160,1.205)(-140,1.210)(-120,1.212)(-100,1.211)(-80,1.213)(-60,1.214)(-40,1.213)(-20,1.212)(0,1.216)(20,1.218)(40,1.222)(50,1.215)(60,1.198)(70,1.210)(80,1.222)(100,1.220)(120,1.218)(140,1.215)(160,1.208)(180,1.195)(200,1.185)(220,1.192)(240,1.200)(260,1.210)(280,1.216)(300,1.213)}
\spA{(-300,1.087)(-280,1.095)(-260,1.105)(-240,1.115)(-220,1.122)(-200,1.128)(-180,1.133)(-160,1.136)(-140,1.137)(-120,1.138)(-100,1.140)(-80,1.143)(-60,1.144)(-40,1.145)(-20,1.142)(0,1.142)(20,1.140)(40,1.140)(60,1.139)(80,1.140)(100,1.138)(120,1.137)(140,1.130)(150,1.110)(160,1.070)(170,1.035)(178,1.022)(185,1.040)(195,1.085)(210,1.115)(230,1.130)(260,1.137)(280,1.139)(300,1.143)}
\spC{(-300,1.052)(-280,1.055)(-260,1.058)(-240,1.063)(-220,1.066)(-200,1.068)(-180,1.069)(-160,1.070)(-140,1.071)(-120,1.070)(-100,1.069)(-80,1.065)(-60,1.055)(-40,1.045)(-20,1.037)(0,1.036)(20,1.040)(40,1.048)(60,1.060)(80,1.065)(100,1.058)(120,1.045)(140,1.025)(160,1.005)(180,0.995)(200,1.005)(220,1.040)(240,1.060)(260,1.068)(280,1.070)(300,1.071)}
\spD{(-300,0.977)(-280,0.980)(-260,0.985)(-240,0.992)(-220,0.998)(-200,1.000)(-180,0.999)(-160,1.000)(-140,1.004)(-125,1.012)(-115,1.018)(-105,1.002)(-90,0.998)(-80,0.995)(-60,0.985)(-40,0.972)(-20,0.960)(0,0.955)(20,0.960)(40,0.970)(60,0.980)(80,0.990)(100,0.995)(120,0.998)(140,0.995)(160,0.985)(175,0.980)(190,0.985)(210,0.998)(230,1.005)(240,1.012)(250,1.003)(270,1.001)(300,1.000)}
\fills{-80}{70}{-90}{100}
\ttl{12837}
\end{axis}
% ---------- Row 4 ----------
\begin{axis}[pan, at={(53pt,-378.5pt)}, ymin=0.9574, ymax=1.2169, ytick={1.00,1.05,1.10,1.15,1.20}, yticklabels={1.00,1.05,1.10,1.15,1.20}]
\bases{1.1308}{1.0878}{1.0435}{1.0}
\spG{(-300,1.130)(-280,1.132)(-260,1.128)(-250,1.120)(-240,1.113)(-230,1.125)(-210,1.128)(-190,1.126)(-170,1.125)(-150,1.122)(-130,1.117)(-110,1.125)(-90,1.128)(-70,1.130)(-50,1.128)(-30,1.130)(-10,1.131)(0,1.117)(10,1.125)(20,1.130)(40,1.127)(60,1.124)(80,1.127)(100,1.121)(120,1.125)(140,1.128)(160,1.133)(180,1.135)(200,1.130)(220,1.131)(240,1.129)(260,1.128)(280,1.126)(300,1.130)}
\spA{(-300,1.085)(-280,1.088)(-260,1.083)(-240,1.090)(-220,1.085)(-200,1.087)(-180,1.083)(-160,1.088)(-140,1.084)(-120,1.089)(-100,1.084)(-80,1.091)(-60,1.086)(-40,1.084)(-20,1.087)(0,1.092)(20,1.085)(40,1.087)(60,1.084)(80,1.091)(100,1.086)(120,1.084)(140,1.089)(160,1.086)(180,1.088)(200,1.087)(220,1.085)(240,1.088)(260,1.086)(280,1.085)(300,1.084)}
\spC{(-210,1.041)(-200,1.043)(-180,1.044)(-160,1.043)(-140,1.043)(-120,1.044)(-100,1.043)(-80,1.040)(-60,1.033)(-40,1.027)(-20,1.022)(0,1.022)(20,1.025)(40,1.030)(60,1.037)(80,1.042)(100,1.044)(120,1.043)(140,1.043)(160,1.044)(180,1.044)(200,1.043)(220,1.044)(240,1.043)(260,1.044)(280,1.045)(300,1.045)}
\spD{(-300,1.000)(-280,0.999)(-260,0.999)(-240,0.997)(-220,0.995)(-200,0.997)(-180,0.998)(-160,0.999)(-140,0.999)(-120,1.002)(-100,0.999)(-80,0.994)(-60,0.988)(-40,0.982)(-20,0.976)(0,0.970)(20,0.975)(40,0.978)(60,0.985)(80,0.992)(100,0.999)(120,1.000)(140,1.001)(160,1.002)(180,1.003)(200,1.002)(220,1.003)(240,1.004)(260,1.005)(280,1.008)(300,1.006)}
\fills{-80}{100}{-100}{100}
\ttl{12861}
\end{axis}
\begin{axis}[pan, at={(155pt,-378.5pt)}, ymin=0.9776, ymax=1.1123, ytick={0.98,1.00,1.02,1.04,1.06,1.08,1.10}, yticklabels={0.98,1.00,1.02,1.04,1.06,1.08,1.10}]
\bases{1.0676}{1.0453}{1.0225}{1.0}
\spG{(-300,1.070)(-290,1.074)(-280,1.072)(-260,1.069)(-240,1.068)(-220,1.066)(-200,1.067)(-180,1.064)(-160,1.062)(-140,1.063)(-120,1.066)(-100,1.070)(-80,1.068)(-60,1.066)(-40,1.068)(-20,1.064)(0,1.060)(20,1.065)(40,1.063)(60,1.066)(80,1.062)(100,1.058)(110,1.054)(120,1.060)(140,1.066)(160,1.068)(180,1.066)(195,1.073)(200,1.067)(220,1.066)(240,1.069)(260,1.066)(280,1.067)(300,1.066)}
\spA{(-300,1.046)(-280,1.044)(-260,1.046)(-240,1.043)(-220,1.041)(-200,1.043)(-180,1.046)(-160,1.044)(-140,1.049)(-120,1.046)(-100,1.043)(-80,1.045)(-60,1.044)(-40,1.042)(-20,1.045)(0,1.041)(10,1.044)(20,1.046)(40,1.045)(60,1.048)(80,1.047)(100,1.046)(120,1.049)(140,1.047)(160,1.045)(180,1.046)(200,1.045)(220,1.043)(240,1.040)(260,1.042)(280,1.041)(300,1.040)}
\spC{(-300,1.021)(-280,1.023)(-260,1.022)(-240,1.023)(-220,1.021)(-200,1.022)(-180,1.019)(-160,1.022)(-140,1.023)(-120,1.024)(-100,1.025)(-80,1.022)(-60,1.023)(-40,1.020)(-30,1.015)(-20,1.012)(-10,1.016)(0,1.021)(20,1.022)(40,1.022)(60,1.021)(80,1.022)(100,1.023)(120,1.023)(140,1.026)(160,1.021)(180,1.022)(200,1.019)(220,1.020)(240,1.022)(260,1.021)(280,1.023)(300,1.021)}
\spD{(-300,0.997)(-280,0.995)(-260,0.997)(-240,0.998)(-220,0.999)(-200,1.000)(-180,1.002)(-160,1.001)(-140,1.003)(-120,1.005)(-100,1.001)(-80,1.003)(-60,1.003)(-50,1.000)(-45,0.995)(-30,0.989)(-20,0.987)(-10,0.985)(0,0.986)(10,0.986)(20,0.989)(30,0.994)(40,0.996)(60,0.997)(80,0.996)(100,0.996)(120,0.995)(140,0.994)(160,0.997)(180,0.995)(200,1.000)(220,0.996)(240,0.993)(260,0.998)(280,1.001)(300,1.004)}
\fills{-50}{80}{-50}{30}
\ttl{12878}
\end{axis}
\begin{axis}[pan, at={(257pt,-378.5pt)}, ymin=0.968, ymax=1.156, ytick={0.975,1.000,1.025,1.050,1.075,1.100,1.125,1.150}, yticklabels={0.975,1.000,1.025,1.050,1.075,1.100,1.125,1.150}]
\bases{1.0943}{1.0633}{1.0315}{1.0}
\spA{(-300,1.093)(-280,1.091)(-260,1.093)(-240,1.090)(-220,1.093)(-200,1.096)(-180,1.099)(-170,1.095)(-160,1.090)(-150,1.095)(-140,1.097)(-130,1.088)(-120,1.092)(-112,1.088)(-108,1.062)(-100,1.066)(-95,1.088)(-90,1.083)(-80,1.090)(-70,1.097)(-60,1.093)(-40,1.093)(-20,1.092)(-5,1.090)(0,1.096)(20,1.095)(40,1.094)(50,1.113)(60,1.100)(70,1.102)(80,1.098)(100,1.096)(120,1.094)(140,1.093)(160,1.092)(180,1.093)(195,1.105)(200,1.125)(210,1.118)(220,1.097)(240,1.092)(260,1.094)(280,1.094)(300,1.094)}
\spA{(-300,1.060)(-280,1.062)(-260,1.060)(-240,1.063)(-220,1.062)(-200,1.063)(-180,1.061)(-160,1.062)(-140,1.060)(-120,1.062)(-110,1.050)(-105,1.036)(-100,1.052)(-90,1.060)(-80,1.062)(-60,1.063)(-40,1.062)(-20,1.063)(0,1.062)(20,1.063)(40,1.062)(60,1.062)(80,1.063)(100,1.062)(120,1.061)(140,1.062)(160,1.070)(170,1.062)(180,1.062)(200,1.063)(220,1.064)(240,1.063)(260,1.064)(280,1.063)(300,1.063)}
\spC{(-300,1.031)(-280,1.030)(-260,1.031)(-240,1.032)(-220,1.031)(-200,1.032)(-180,1.031)(-160,1.032)(-140,1.031)(-120,1.032)(-105,1.032)(-100,1.040)(-90,1.038)(-80,1.041)(-70,1.034)(-60,1.032)(-40,1.022)(-30,1.017)(-20,1.020)(0,1.024)(20,1.025)(40,1.025)(55,1.022)(60,1.030)(65,1.024)(80,1.018)(100,1.012)(120,1.008)(140,1.004)(150,1.002)(160,1.006)(180,1.012)(200,1.017)(215,1.018)(225,1.033)(235,1.025)(260,1.024)(280,1.027)(300,1.029)}
\spD{(-300,0.998)(-280,0.999)(-260,0.998)(-240,0.999)(-220,1.000)(-200,1.002)(-180,0.999)(-160,1.000)(-140,1.001)(-120,0.999)(-100,0.998)(-80,1.000)(-70,1.007)(-60,1.003)(-50,0.995)(-40,0.990)(-20,0.986)(0,0.984)(10,0.986)(20,0.985)(40,0.982)(60,0.976)(80,0.968)(90,0.962)(140,0.950)(160,0.960)(170,0.968)(180,0.975)(200,0.978)(220,0.980)(240,0.982)(260,0.986)(280,0.990)(300,0.994)}
\fills{-35}{60}{-40}{30}
\ttl{13021}
\dib{155}{1.100}{1.110}{13027}
\end{axis}
\begin{axis}[pan, at={(359pt,-378.5pt)}, ymin=0.9437, ymax=1.283, ytick={0.95,1.00,1.05,1.10,1.15,1.20,1.25}, yticklabels={0.95,1.00,1.05,1.10,1.15,1.20,1.25}]
\bases{1.1705}{1.1141}{1.0561}{1.0}
\spT{(45,1.190)(50,1.205)(55,1.205)(60,1.190)}
\spT{(222,1.188)(228,1.205)(236,1.205)(242,1.185)}
\spA{(-300,1.170)(-280,1.168)(-270,1.165)(-262,1.125)(-255,1.118)(-250,1.130)(-245,1.165)(-230,1.172)(-215,1.180)(-200,1.175)(-180,1.172)(-160,1.168)(-140,1.174)(-120,1.172)(-110,1.185)(-100,1.190)(-90,1.180)(-70,1.173)(-50,1.174)(-30,1.172)(-10,1.170)(0,1.168)(20,1.170)(40,1.172)(50,1.190)(55,1.198)(60,1.180)(80,1.170)(100,1.168)(120,1.169)(140,1.170)(160,1.172)(175,1.182)(190,1.173)(210,1.175)(220,1.185)(230,1.188)(240,1.180)(260,1.185)(270,1.190)(280,1.186)(300,1.176)}
\spA{(-300,1.111)(-280,1.112)(-260,1.113)(-240,1.111)(-220,1.113)(-200,1.112)(-180,1.114)(-160,1.111)(-140,1.113)(-120,1.114)(-100,1.111)(-80,1.113)(-60,1.114)(-40,1.112)(-20,1.113)(0,1.117)(20,1.111)(40,1.113)(60,1.112)(80,1.114)(100,1.112)(120,1.114)(140,1.113)(160,1.111)(180,1.115)(200,1.112)(220,1.114)(240,1.112)(260,1.113)(280,1.112)(300,1.110)}
\spC{(-300,1.055)(-280,1.058)(-260,1.062)(-240,1.065)(-220,1.066)(-200,1.060)(-180,1.048)(-160,1.043)(-140,1.050)(-120,1.052)(-100,1.053)(-80,1.052)(-70,1.045)(-60,1.040)(-40,1.036)(-20,1.032)(0,1.027)(20,1.032)(40,1.036)(55,1.055)(60,1.050)(80,1.046)(100,1.049)(120,1.052)(140,1.054)(160,1.053)(180,1.055)(200,1.056)(220,1.056)(240,1.058)(260,1.057)(280,1.058)(300,1.060)}
\spD{(-300,1.000)(-280,1.001)(-260,0.999)(-240,1.000)(-220,1.005)(-200,1.003)(-180,0.992)(-160,0.987)(-140,0.988)(-120,0.990)(-100,0.987)(-80,0.980)(-60,0.972)(-40,0.967)(-20,0.964)(0,0.962)(20,0.968)(40,0.972)(60,0.980)(80,0.988)(100,0.986)(120,0.992)(140,0.996)(160,0.997)(180,1.000)(200,0.998)(220,1.001)(240,0.999)(260,0.998)(280,1.000)(300,1.004)}
\fills{-80}{50}{-120}{140}
\ttl{13027}
\dib{-153}{1.180}{1.199}{13021}
\end{axis}
\begin{axis}[pan, at={(461pt,-378.5pt)}, ymin=0.9623, ymax=1.1893, ytick={1.00,1.05,1.10,1.15}, yticklabels={1.00,1.05,1.10,1.15}]
\bases{1.1142}{1.0765}{1.0379}{1.0}
\spT{(-300,1.140)(-297,1.150)(-290,1.150)(-285,1.130)}
\spT{(248,1.130)(252,1.145)(258,1.145)(262,1.128)}
\spT{(265,1.040)(270,1.052)(276,1.050)(280,1.040)}
\spA{(-300,1.131)(-290,1.125)(-280,1.128)(-270,1.122)(-260,1.133)(-250,1.130)(-240,1.126)(-220,1.122)(-200,1.118)(-180,1.115)(-160,1.113)(-140,1.110)(-120,1.112)(-100,1.108)(-90,1.106)(-80,1.105)(-75,1.095)(-70,1.083)(-65,1.092)(-60,1.105)(-40,1.108)(-20,1.110)(-10,1.112)(0,1.122)(10,1.112)(20,1.110)(40,1.109)(60,1.112)(80,1.108)(100,1.107)(120,1.110)(140,1.111)(160,1.112)(180,1.113)(200,1.114)(220,1.116)(240,1.120)(255,1.130)(260,1.128)(270,1.118)(280,1.114)(290,1.113)(300,1.128)}
\spA{(-300,1.075)(-280,1.073)(-260,1.076)(-240,1.071)(-220,1.074)(-200,1.075)(-180,1.070)(-160,1.076)(-140,1.074)(-120,1.077)(-100,1.075)(-80,1.076)(-60,1.075)(-40,1.078)(-20,1.075)(0,1.076)(20,1.072)(40,1.074)(60,1.076)(80,1.071)(100,1.075)(120,1.077)(140,1.076)(160,1.072)(180,1.075)(200,1.074)(220,1.078)(240,1.076)(260,1.074)(280,1.077)(300,1.078)}
\spC{(-300,1.033)(-280,1.040)(-260,1.045)(-250,1.038)(-230,1.036)(-210,1.038)(-190,1.036)(-170,1.037)(-150,1.038)(-130,1.036)(-110,1.038)(-90,1.037)(-70,1.038)(-50,1.037)(-30,1.038)(-15,1.035)(-5,1.030)(3,1.025)(10,1.032)(20,1.036)(40,1.038)(60,1.037)(80,1.038)(100,1.037)(120,1.038)(140,1.036)(160,1.035)(180,1.034)(200,1.033)(220,1.034)(240,1.036)(260,1.040)(270,1.046)(280,1.040)(290,1.035)(300,1.033)}
\spD{(-300,0.997)(-280,0.999)(-260,1.000)(-240,0.997)(-220,1.000)(-200,0.999)(-180,0.997)(-160,0.999)(-140,1.000)(-120,0.998)(-100,1.000)(-80,1.000)(-60,1.001)(-40,0.999)(-20,0.997)(0,0.990)(20,0.991)(40,0.989)(60,0.992)(80,0.995)(100,0.998)(120,1.000)(140,1.001)(160,1.001)(180,1.003)(200,1.002)(220,1.000)(240,0.999)(260,0.998)(270,1.005)(280,1.002)(290,0.995)(300,0.990)}
\fills{-40}{30}{-60}{80}
\ttl{13050}
\end{axis}
\begin{axis}[pan, at={(563pt,-378.5pt)}, ymin=0.5822, ymax=3.1266, ytick={1.0,1.5,2.0,2.5,3.0}, yticklabels={1.0,1.5,2.0,2.5,3.0}]
\bases{2.2746}{1.861}{1.4296}{1.0}
\spT{(-268,2.260)(-262,2.080)(-255,2.100)(-250,2.260)}
\spT{(45,2.270)(50,2.150)(55,2.270)}
\spT{(160,2.270)(165,2.180)(172,2.180)(176,2.270)}
\spT{(-250,1.420)(-245,1.360)(-240,1.415)}
\spT{(175,1.425)(180,1.380)(185,1.425)}
\spA{(-300,2.250)(-280,2.265)(-260,2.270)(-245,2.290)(-230,2.275)(-200,2.275)(-180,2.273)(-160,2.272)(-140,2.275)(-120,2.276)(-100,2.274)(-80,2.275)(-60,2.276)(-40,2.274)(-20,2.275)(0,2.277)(20,2.275)(40,2.276)(60,2.274)(80,2.270)(100,2.255)(120,2.270)(140,2.276)(160,2.280)(180,2.285)(200,2.275)(220,2.274)(240,2.272)(260,2.268)(280,2.255)(300,2.250)}
\spA{(-300,1.855)(-280,1.852)(-260,1.850)(-240,1.856)(-220,1.858)(-200,1.860)(-180,1.857)(-160,1.858)(-140,1.856)(-120,1.857)(-100,1.857)(-80,1.856)(-60,1.857)(-40,1.856)(-20,1.857)(0,1.857)(20,1.856)(40,1.857)(60,1.856)(80,1.857)(100,1.857)(120,1.856)(140,1.856)(160,1.857)(180,1.855)(200,1.855)(220,1.856)(240,1.856)(260,1.855)(280,1.856)(300,1.855)}
\spC{(-300,1.500)(-280,1.480)(-260,1.450)(-240,1.420)(-220,1.415)(-200,1.425)(-180,1.428)(-160,1.430)(-140,1.428)(-120,1.420)(-100,1.390)(-80,1.330)(-60,1.260)(-40,1.215)(-20,1.210)(0,1.245)(20,1.265)(40,1.290)(60,1.320)(80,1.360)(100,1.395)(120,1.415)(140,1.420)(160,1.425)(180,1.425)(200,1.427)(220,1.428)(240,1.428)(260,1.428)(280,1.429)(300,1.430)}
\spD{(-300,0.910)(-280,0.920)(-260,0.945)(-240,0.970)(-220,0.990)(-200,0.995)(-180,1.000)(-160,1.000)(-140,0.995)(-120,0.980)(-100,0.950)(-80,0.890)(-60,0.820)(-40,0.760)(-20,0.720)(0,0.705)(20,0.720)(40,0.760)(60,0.830)(80,0.900)(100,0.950)(120,0.980)(140,0.990)(160,0.995)(180,0.998)(200,1.000)(220,1.000)(240,1.002)(260,1.003)(280,1.003)(300,1.004)}
\fills{-120}{140}{-130}{150}
\ttl{13175}
\end{axis}
\end{tikzpicture}
\end{document}
